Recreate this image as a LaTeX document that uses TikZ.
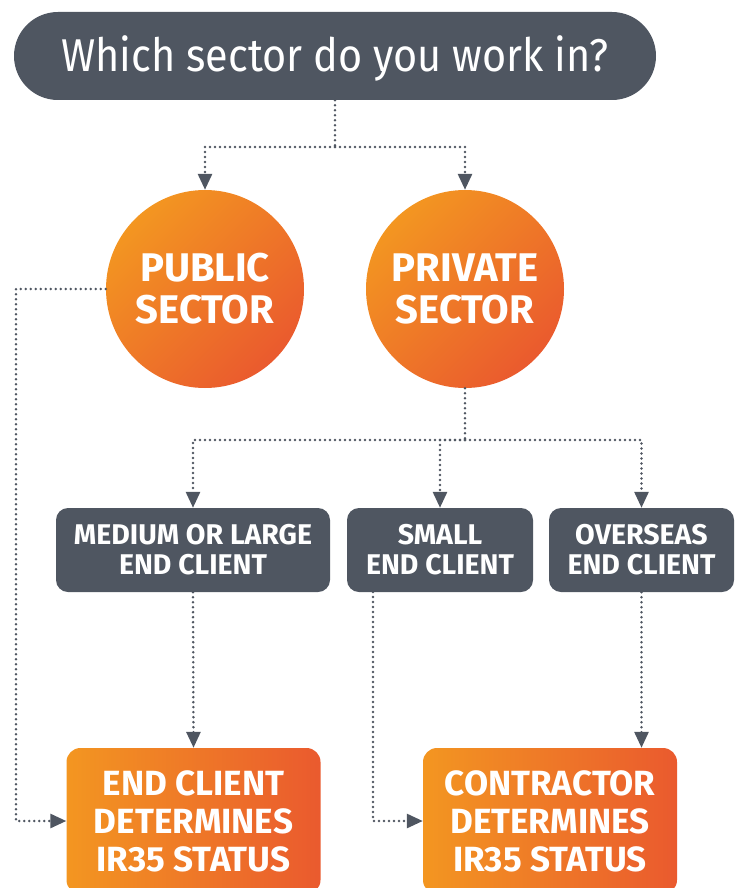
\documentclass[tikz,border=0pt]{standalone}
\usepackage{fontspec}
\setmainfont{Fira Sans}
\newfontfamily\titlefont{Fira Sans}[FakeStretch=0.9]
\newfontfamily\bfont{Fira Sans}
\usetikzlibrary{arrows.meta}
\definecolor{slate}{HTML}{4F5661}
\definecolor{olight}{HTML}{F39621}
\definecolor{odark}{HTML}{EA5A2E}
\tikzset{
  dots/.style={draw=slate, line width=2.8pt, line cap=round, dash pattern=on 0pt off 5pt},
  arr/.style={dots, -{Triangle[length=16pt,width=14pt]}},
  greybox/.style={fill=slate, rounded corners=12pt, text=white, align=center, inner sep=0pt},
  orangebox/.style={left color=olight, right color=odark, rounded corners=14pt, text=white, align=center, inner sep=0pt},
  disc/.style={circle, left color=olight, right color=odark, shading angle=45, minimum size=198pt, inner sep=0pt, text=white, align=center, font=\bfont\bfseries\fontsize{40}{42}\selectfont},
}
\begin{document}
\begin{tikzpicture}[x=1pt,y=-1pt]
\useasboundingbox (0,0) rectangle (737,888);
\node[fill=slate, rounded corners=44pt, minimum width=642pt, minimum height=88pt, inner sep=0pt, text height=32pt, text depth=0pt, text=white, font=\titlefont\fontsize{46}{50}\selectfont] (q) at (335,56) {Which sector do you work in?};
\node[disc] (pub) at (205,289) {PUBLIC\\SECTOR};
\node[disc] (priv) at (465,289) {PRIVATE\\SECTOR};
\tikzset{gb/.style={greybox, minimum height=84pt, font=\bfont\bfseries\fontsize{28.5}{30}\selectfont}}
\node[gb, minimum width=274pt] (med) at (193,550) {MEDIUM OR LARGE\\END CLIENT};
\node[gb, minimum width=186pt] (small) at (440,550) {SMALL\\END CLIENT};
\node[gb, minimum width=185pt] (over) at (641.5,550) {OVERSEAS\\END CLIENT};
\tikzset{ob/.style={orangebox, minimum width=254pt, minimum height=146pt, font=\bfont\bfseries\fontsize{35}{38}\selectfont}}
\node[ob] (ec) at (193.5,821) {END CLIENT\\DETERMINES\\IR35 STATUS};
\node[ob] (co) at (550,821) {CONTRACTOR\\DETERMINES\\IR35 STATUS};
% connectors
\coordinate (j1) at (335,147);
\draw[dots] (q.south) -- (j1);
\draw[arr] (j1) -| (pub.north);
\draw[arr] (j1) -| (priv.north);
\coordinate (j2) at (465,440);
\draw[dots] (priv.south) -- (j2);
\draw[arr] (j2) -| (med.north);
\draw[arr] (j2) -| (small.north);
\draw[arr] (j2) -| (over.north);
\coordinate (p1) at (16,289);
\coordinate (p2) at (16,821);
\draw[arr] (pub.west) -- (p1) -- (p2) -- (ec.west);
\coordinate (s1) at (373,592);
\coordinate (s2) at (373,821);
\draw[arr] (s1) -- (s2) -- (co.west);
\draw[arr] (med.south) -- (ec.north);
\draw[arr] (over.south) -- (over.south |- co.north);
\end{tikzpicture}
\end{document}
